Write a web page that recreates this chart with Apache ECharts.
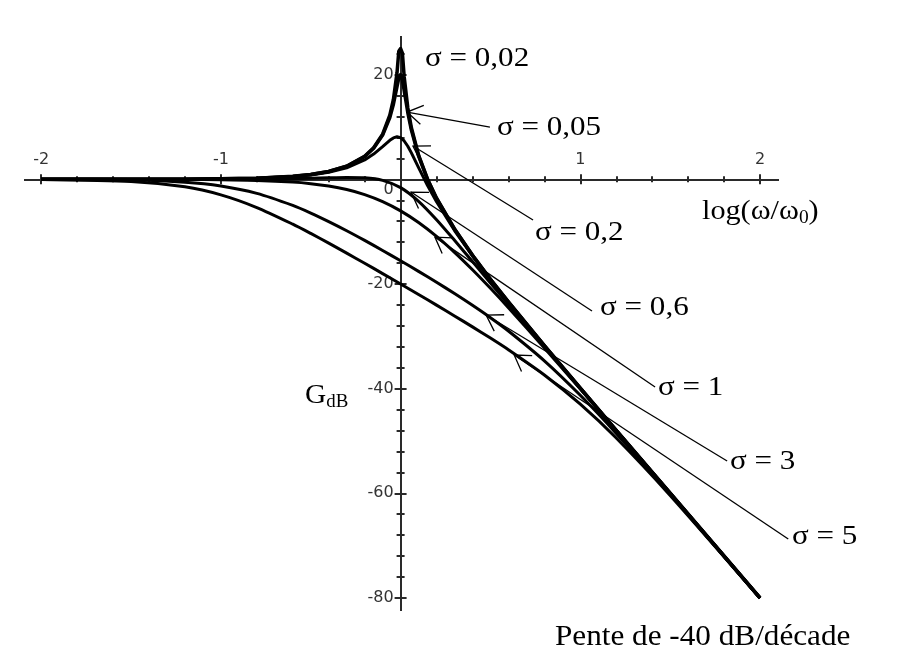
<!DOCTYPE html>
<html><head><meta charset="utf-8">
<script src="https://cdn.jsdelivr.net/npm/echarts@6/dist/echarts.min.js"></script>
<style>html,body{margin:0;padding:0;background:#fff}#c{width:922px;height:670px}</style>
</head><body><div id="c"></div>
<script>
// log10(ω/ω0) sample positions
const xFine = [-2,-1.5,-1.2,-1,-0.8,-0.6,-0.5,-0.4,-0.3,-0.2,-0.15,-0.1,-0.06,-0.04,-0.02,-0.01,0,0.01,0.02,0.04,0.06,0.1,0.15,0.2,0.3,0.4,0.5,0.6,0.8,1,1.2,1.5,2];
const xCoarse = [-2,-1.5,-1.2,-1,-0.8,-0.6,-0.5,-0.4,-0.3,-0.2,-0.1,0,0.1,0.2,0.3,0.4,0.5,0.6,0.8,1,1.2,1.5,2];

// GdB read for each damping σ
const g002 = [0,0.01,0.03,0.09,0.22,0.57,0.91,1.50,2.51,4.40,6.03,8.63,12.26,15.28,20.36,24.49,25.0,24.10,19.56,13.68,9.85,4.63,0.03,-3.60,-9.49,-14.50,-19.09,-23.43,-31.78,-39.91,-47.97,-59.99,-80.00];
const g005 = [0,0.01,0.03,0.09,0.22,0.56,0.91,1.49,2.49,4.36,5.95,8.46,11.81,14.36,17.73,19.36,20.00,18.97,16.93,12.76,9.41,4.46,-0.05,-3.64,-9.51,-14.51,-19.09,-23.44,-31.78,-39.91,-47.97,-59.99,-80.00];
const g02  = [0,0.01,0.03,0.08,0.20,0.52,0.83,1.35,2.21,3.71,4.83,6.25,7.46,7.92,8.13,8.10,7.96,7.70,7.33,6.32,5.06,2.25,-1.17,-4.29,-9.79,-14.65,-19.17,-23.48,-31.80,-39.92,-47.97,-59.99,-80.00];
const g06  = [0,0,0.01,0.02,0.06,0.14,0.20,0.29,0.35,0.29,-0.19,-1.58,-4.19,-7.71,-11.65,-15.71,-19.80,-23.86,-31.94,-39.98,-47.99,-60.00,-80.00];
const g1   = [0,-0.01,-0.03,-0.09,-0.22,-0.53,-0.83,-1.28,-1.95,-2.91,-4.25,-6.02,-8.25,-10.91,-13.95,-17.28,-20.83,-24.53,-32.22,-40.09,-48.03,-60.01,-80.00];
const g3   = [-0.01,-0.15,-0.55,-1.27,-2.68,-4.98,-6.44,-8.07,-9.82,-11.67,-13.59,-15.56,-17.59,-19.67,-21.82,-24.07,-26.44,-28.98,-34.68,-41.27,-48.55,-60.15,-80.01];
const g5   = [-0.04,-0.41,-1.43,-2.97,-5.39,-8.57,-10.34,-12.19,-14.10,-16.04,-18.01,-20.00,-22.01,-24.04,-26.10,-28.19,-30.34,-32.57,-37.39,-42.97,-49.43,-60.41,-80.04];

// ticks and tick labels
const xMajorTicks = [-2,-1,0,1,2];
const xTickLabels = [-2,-1,1,2];
const xMinorTicks = [-1.8,-1.6,-1.4,-1.2,-0.8,-0.6,-0.4,-0.2,0.2,0.4,0.6,0.8,1.2,1.4,1.6,1.8];
const yMajorTicks = [20,0,-20,-40,-60,-80];
const yTickLabels = [20,0,-20,-40,-60,-80];
const yMinorTicks = [24,16,12,8,4,-4,-8,-12,-16,-24,-28,-32,-36,-44,-48,-52,-56,-64,-68,-72,-76];

const curves = [
  {x:xFine, y:g002, w:3.5, smooth:false},
  {x:xFine, y:g005, w:3.5, smooth:false},
  {x:xFine, y:g02, w:3, smooth:false},
  {x:xCoarse, y:g06, w:3, smooth:0.25},
  {x:xCoarse, y:g1, w:3, smooth:0.25},
  {x:xCoarse, y:g3, w:3, smooth:0.25},
  {x:xCoarse, y:g5, w:3, smooth:0.25}
];

// annotations (label texts, leader lines) in data coordinates
const annotations = [
  {text:'σ = 0,02', at:[0.136,23.04], sx:1.15},
  {text:'σ = 0,05', tip:[0.036,12.86], end:[0.497,9.99], at:[0.536,9.80], sx:1.15},
  {text:'σ = 0,2', tip:[0.069,6.36], end:[0.737,-7.78], at:[0.748,-10.18], sx:1.15},
  {text:'σ = 0,6', tip:[0.058,-2.43], end:[1.065,-25.16], at:[1.110,-24.59], sx:1.15},
  {text:'σ = 1', tip:[0.191,-11.04], end:[1.416,-39.69], at:[1.432,-39.88], sx:1.15},
  {text:'σ = 3', tip:[0.476,-25.93], end:[1.817,-53.83], at:[1.833,-54.02], sx:1.15},
  {text:'σ = 5', tip:[0.632,-33.57], end:[2.157,-68.74], at:[2.178,-68.36], sx:1.15},
  {rich:'{m|log(ω/ω}{s|0}{m|)}', at:[1.677,-6.2], sub:20, sx:1.08},
  {rich:'{m|G}{s|dB}', at:[-0.532,-41.4], sub:14, sx:1.05},
  {text:'Pente de -40 dB/décade', at:[0.859,-87.46], size:30, sx:1.04}
];

const AX = '#2a2a2a';
const SERIF = '"Liberation Serif","Times New Roman",serif';
const SANS = '"DejaVu Sans",sans-serif';
const X_MIN = -2.09, X_MAX = 2.1, Y_MIN = -82.3, Y_MAX = 27.2;
const GRID = {left:25, right:144, top:37, bottom:60};
const PLOT_W = 922 - GRID.left - GRID.right, PLOT_H = 670 - GRID.top - GRID.bottom;
// axis carrying the labels is shifted from the grid edge to the zero line
const xZeroOffset = -(Y_MAX / (Y_MAX - Y_MIN)) * PLOT_H;
const yZeroOffset = -(-X_MIN / (X_MAX - X_MIN)) * PLOT_W;

function xAx(ticks, len, inside, labels) {
  const ax = {
    type:'value', min:X_MIN, max:X_MAX, position:'top',
    splitLine:{show:false},
    axisLine:{show:true, onZero:true, onZeroAxisIndex:0, lineStyle:{color:AX, width:2}},
    axisTick:{show:true, customValues:ticks, length:len, inside:inside, lineStyle:{color:AX, width:2}},
    axisLabel:{show:false}
  };
  if (labels) {
    ax.axisLine.onZero = false;
    ax.offset = xZeroOffset;
    ax.axisLabel = {show:true, customValues:labels, margin:11, fontFamily:SANS, fontSize:16, color:'#333'};
  }
  return ax;
}
function yAx(ticks, len, inside, labels) {
  const ax = {
    type:'value', min:Y_MIN, max:Y_MAX, position:'left',
    splitLine:{show:false},
    axisLine:{show:true, onZero:true, onZeroAxisIndex:0, lineStyle:{color:AX, width:2}},
    axisTick:{show:true, customValues:ticks, length:len, inside:inside, lineStyle:{color:AX, width:2}},
    axisLabel:{show:false}
  };
  if (labels) {
    ax.axisLine.onZero = false;
    ax.offset = yZeroOffset;
    ax.axisLabel = {
      show:true, customValues:labels, margin:7, fontFamily:SANS, fontSize:16, color:'#333',
      formatter: v => (v === 0 ? '{z|0}' : String(v)),
      rich:{z:{padding:[21,0,0,0], fontFamily:SANS, fontSize:16, color:'#333'}}
    };
  }
  return ax;
}

const chart = echarts.init(document.getElementById('c'), null, {renderer:'canvas'});
chart.setOption({
  animation:false,
  backgroundColor:'#fff',
  grid:{left:GRID.left, right:GRID.right, top:GRID.top, bottom:GRID.bottom, containLabel:false, outerBoundsMode:'none'},
  xAxis:[
    xAx(xMajorTicks, 5, false, xTickLabels),
    xAx(xMajorTicks, 5, true, null),
    xAx(xMinorTicks, 3, false, null),
    xAx(xMinorTicks, 3, true, null)
  ],
  yAxis:[
    yAx(yMajorTicks, 6, false, yTickLabels),
    yAx(yMajorTicks, 6, true, null),
    yAx(yMinorTicks, 4, false, null),
    yAx(yMinorTicks, 4, true, null)
  ],
  series: curves.map(c => ({
    type:'line', xAxisIndex:0, yAxisIndex:0,
    data:c.x.map((v,i) => [v, c.y[i]]),
    symbol:'none', showSymbol:false, smooth:c.smooth, silent:true, clip:false, z:3,
    lineStyle:{color:'#000', width:c.w, join:'round'}
  })).concat([{
    type:'custom', coordinateSystem:'cartesian2d', xAxisIndex:0, yAxisIndex:0,
    clip:false, silent:true, z:5,
    data: annotations.map(a => a.at),
    renderItem(params, api) {
      const a = annotations[params.dataIndex];
      const kids = [];
      if (a.tip) {
        const p0 = api.coord(a.tip), p1 = api.coord(a.end);
        const ang = Math.atan2(p1[1]-p0[1], p1[0]-p0[0]);
        const L = 18, w = 0.56;
        kids.push({type:'line', shape:{x1:p0[0], y1:p0[1], x2:p1[0], y2:p1[1]}, style:{stroke:'#000', lineWidth:1.3}});
        kids.push({type:'polyline', shape:{points:[
          [p0[0]+L*Math.cos(ang-w), p0[1]+L*Math.sin(ang-w)], [p0[0], p0[1]],
          [p0[0]+L*Math.cos(ang+w), p0[1]+L*Math.sin(ang+w)]]},
          style:{stroke:'#000', fill:null, lineWidth:1.3}});
      }
      const pl = api.coord(a.at);
      if (a.rich) {
        kids.push({type:'text', x:pl[0], y:pl[1], scaleX:a.sx || 1, style:{
          text:a.rich, fill:'#000', align:'left', verticalAlign:'middle',
          rich:{
            m:{fontFamily:SERIF, fontSize:28, lineHeight:30, verticalAlign:'middle', fill:'#000'},
            s:{fontFamily:SERIF, fontSize:18, lineHeight:a.sub, verticalAlign:'bottom', fill:'#000'}
          }}});
      } else {
        kids.push({type:'text', x:pl[0], y:pl[1], scaleX:a.sx || 1, style:{
          text:a.text, fill:'#000', align:'left', verticalAlign:'middle',
          fontFamily:SERIF, fontSize:a.size || 27}});
      }
      return {type:'group', children:kids};
    }
  }])
});
</script>
</body></html>
